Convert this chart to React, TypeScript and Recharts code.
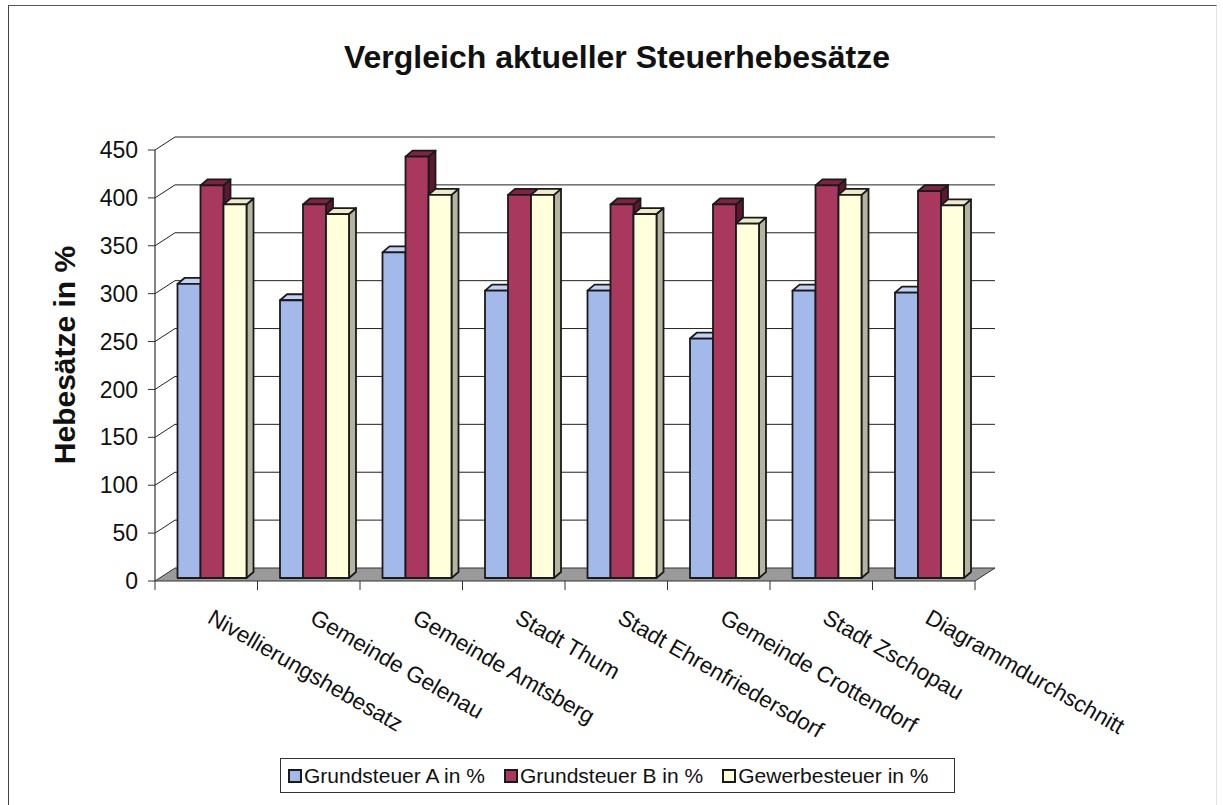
import * as React from "react";
import { Bar, BarChart, CartesianGrid, XAxis, YAxis } from "recharts";

const categories = [
  "Nivellierungshebesatz",
  "Gemeinde Gelenau",
  "Gemeinde Amtsberg",
  "Stadt Thum",
  "Stadt Ehrenfriedersdorf",
  "Gemeinde Crottendorf",
  "Stadt Zschopau",
  "Diagrammdurchschnitt",
];
const grundsteuerA = [307, 290, 340, 300, 300, 250, 300, 298];
const grundsteuerB = [410, 390, 440, 400, 390, 390, 410, 404];
const gewerbesteuer = [390, 380, 400, 400, 380, 370, 400, 389];
const yTicks = [0, 50, 100, 150, 200, 250, 300, 350, 400, 450];

const seriesNames = ["Grundsteuer A in %", "Grundsteuer B in %", "Gewerbesteuer in %"];
const seriesKeys = ["a", "b", "g"];

const FONT = '"Liberation Sans", Arial, sans-serif';

// front face / top face / side face
const COLORS = [
  { front: "#a3b9ea", top: "#c3d2f3", side: "#7187bd" },
  { front: "#a8385e", top: "#7c2442", side: "#5e1730" },
  { front: "#ffffdc", top: "#ececcc", side: "#b4b4a0" },
];

// depth of the floor / back wall, and bar shift + bar depth
const DX = 20;
const DY = 13;
const BX = 5;
const BY = -3;
const SX = 7;
const SY = 6;
const BAND = 102.5;

const data = categories.map((c, i) => ({
  name: c,
  a: grundsteuerA[i],
  b: grundsteuerB[i],
  g: gewerbesteuer[i],
}));

function makeBar(ci: number) {
  const col = COLORS[ci];
  return (props: any) => {
    const { x, y, width: w, height: h } = props;
    if (h == null || w == null) return <g />;
    const fx = x + BX;
    const fy = y + BY;
    return (
      <g stroke="#1a1a1a" strokeWidth={1.8} strokeLinejoin="round">
        <polygon
          points={`${fx + w},${fy} ${fx + w + SX},${fy - SY} ${fx + w + SX},${fy + h - SY} ${fx + w},${fy + h}`}
          fill={col.side}
        />
        <polygon
          points={`${fx},${fy} ${fx + w},${fy} ${fx + w + SX},${fy - SY} ${fx + SX},${fy - SY}`}
          fill={col.top}
        />
        <rect x={fx} y={fy} width={w} height={h} fill={col.front} />
      </g>
    );
  };
}

function gridLine(props: any) {
  const { x1, y1, x2, index } = props;
  if (y1 > 570) {
    return (
      <g key={`floor-${index}`}>
        <polygon
          points={`${x1},${y1} ${x2},${y1} ${x2 + DX},${y1 - DY} ${x1 + DX},${y1 - DY}`}
          fill="#9a9a9a"
          stroke="#333"
          strokeWidth={1}
        />
      </g>
    );
  }
  return (
    <g key={`gl-${index}`} stroke="#222" strokeWidth={1}>
      <line x1={x1} y1={y1} x2={x1 + DX} y2={y1 - DY} />
      <line x1={x1 + DX} y1={y1 - DY} x2={x2 + DX} y2={y1 - DY} />
    </g>
  );
}

function CategoryTick(props: any) {
  const { x, y, payload, index } = props;
  const lx = x - BAND / 2;
  const tx = x;
  const ty = y + 41;
  return (
    <g>
      <line x1={lx} y1={y} x2={lx} y2={y + 9} stroke="#333" />
      {index === categories.length - 1 ? (
        <line x1={x + BAND / 2} y1={y} x2={x + BAND / 2} y2={y + 9} stroke="#333" />
      ) : null}
      <text
        x={tx}
        y={ty}
        textAnchor="start"
        transform={`rotate(30 ${tx} ${ty})`}
        fontFamily={FONT}
        fontSize={22.5}
        fill="#111"
      >
        {payload.value}
      </text>
    </g>
  );
}

export default function App() {
  return (
    <>
      <style>{`html,body{margin:0;padding:0;overflow:hidden;background:#fff}`}</style>
      <div
        style={{
          position: "relative",
          width: 1209,
          height: 805,
          marginLeft: 8,
          marginTop: 5,
          borderLeft: "1px solid #444",
          borderTop: "1px solid #555",
          borderRight: "1px solid #e4e4e4",
          boxSizing: "border-box",
          background: "#fff",
          fontFamily: FONT,
        }}
      >
        <BarChart
          width={1205}
          height={800}
          data={data}
          margin={{ top: 144, right: 239, bottom: 185, left: 86 }}
          barCategoryGap={17.5}
          barGap={0}
        >
          <CartesianGrid vertical={false} horizontal={gridLine as any} />
          <XAxis
            dataKey="name"
            height={40}
            interval={0}
            axisLine={false}
            tickLine={false}
            tickSize={0}
            tickMargin={0}
            tick={<CategoryTick />}
          />
          <YAxis
            width={60}
            domain={[0, 450]}
            ticks={yTicks}
            interval={0}
            axisLine={{ stroke: "#333", strokeWidth: 1.2 }}
            tickLine={{ stroke: "#333" }}
            tickSize={7}
            tickMargin={10}
            tick={{ fill: "#111", fontSize: 23, fontFamily: FONT }}
          />
          {seriesKeys.map((k, i) => (
            <Bar
              key={k}
              dataKey={k}
              name={seriesNames[i]}
              shape={makeBar(i)}
              isAnimationActive={false}
            />
          ))}
        </BarChart>
        <svg
          width={1207}
          height={800}
          style={{ position: "absolute", left: 0, top: 0, pointerEvents: "none" }}
        >
          <text
            x={608}
            y={62}
            textAnchor="middle"
            fontFamily={FONT}
            fontWeight="bold"
            fontSize={32}
            fill="#111"
          >
            Vergleich aktueller Steuerhebesätze
          </text>
          <text
            x={66}
            y={349}
            textAnchor="middle"
            transform="rotate(-90 66 349)"
            fontFamily={FONT}
            fontWeight="bold"
            fontSize={30}
            fill="#111"
          >
            Hebesätze in %
          </text>
        </svg>
        <div
          style={{
            position: "absolute",
            left: 271,
            top: 752,
            width: 675,
            height: 35,
            border: "1px solid #333",
            boxSizing: "border-box",
            display: "flex",
            alignItems: "center",
            paddingLeft: 7,
            gap: 19,
            fontSize: 21,
            color: "#111",
            whiteSpace: "nowrap",
          }}
        >
          {seriesNames.map((n, i) => (
            <div key={n} style={{ display: "flex", alignItems: "center" }}>
              <span
                style={{
                  display: "inline-block",
                  width: 10,
                  height: 10,
                  border: "2.5px solid #1a1a1a",
                  background: COLORS[i].front,
                  marginRight: 2,
                }}
              />
              <span>{n}</span>
            </div>
          ))}
        </div>
      </div>
    </>
  );
}
